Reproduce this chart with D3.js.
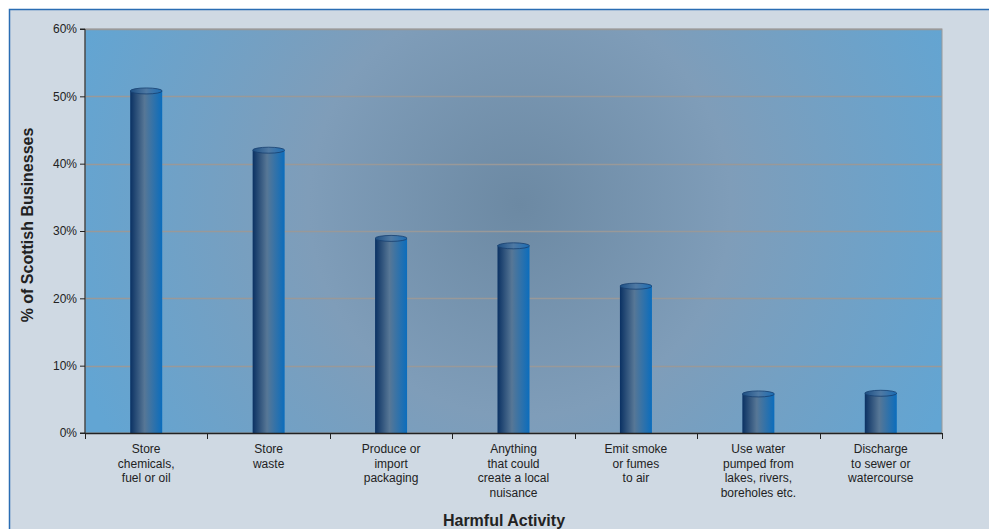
<!DOCTYPE html>
<html><head><meta charset="utf-8">
<script src="https://cdn.jsdelivr.net/npm/d3@7"></script>
<style>body{margin:0;background:#fff}svg{display:block;font-family:"Liberation Sans",Arial,sans-serif}</style>
</head><body><svg id="c" width="989" height="529"></svg>
<script>
const categories = [
  ["Store","chemicals,","fuel or oil"],
  ["Store","waste"],
  ["Produce or","import","packaging"],
  ["Anything","that could","create a local","nuisance"],
  ["Emit smoke","or fumes","to air"],
  ["Use water","pumped from","lakes, rivers,","boreholes etc."],
  ["Discharge","to sewer or","watercourse"]
];
const values = [50.8, 42.0, 28.9, 27.8, 21.8, 5.8, 5.9];
const yTicks = [0, 10, 20, 30, 40, 50, 60];
const yTitle = "% of Scottish Businesses";
const xTitle = "Harmful Activity";

const svg = d3.select("#c");
const W = 989, H = 529;
const m = {l:85, r:47, t:29, b:96};
const x0 = m.l, x1 = W - m.r, y0 = m.t, y1 = H - m.b;

const defs = svg.append("defs");
const rg = defs.append("radialGradient").attr("id","bg").attr("gradientUnits","userSpaceOnUse")
  .attr("cx",520).attr("cy",205).attr("r",470).attr("fx",520).attr("fy",205);
rg.append("stop").attr("offset","0%").attr("stop-color","#6c89a3");
rg.append("stop").attr("offset","45%").attr("stop-color","#7f9db9");
rg.append("stop").attr("offset","100%").attr("stop-color","#62a5d3");
const cg = defs.append("linearGradient").attr("id","cyl").attr("x1","0").attr("x2","1").attr("y1","0").attr("y2","0");
cg.append("stop").attr("offset","0%").attr("stop-color","#0a3163");
cg.append("stop").attr("offset","45%").attr("stop-color","#577796");
cg.append("stop").attr("offset","100%").attr("stop-color","#0b6dbd");
const tg = defs.append("linearGradient").attr("id","top").attr("x1","0").attr("x2","1").attr("y1","0").attr("y2","0");
tg.append("stop").attr("offset","0%").attr("stop-color","#1d4f84");
tg.append("stop").attr("offset","50%").attr("stop-color","#4f79a3");
tg.append("stop").attr("offset","100%").attr("stop-color","#1a6db5");

// panel
svg.append("rect").attr("x",9.5).attr("y",9.5).attr("width",W).attr("height",H)
  .attr("fill","#cfd9e3").attr("stroke","#2a6db3").attr("stroke-width",1.5);

const x = d3.scaleBand().domain(d3.range(categories.length)).range([x0,x1]).padding(0);
const y = d3.scaleLinear().domain([0,60]).range([y1,y0]);

svg.append("rect").attr("x",x0).attr("y",y0).attr("width",x1-x0).attr("height",y1-y0)
  .attr("fill","url(#bg)").attr("stroke","#9a9a9a");

// gridlines
svg.append("g").selectAll("line").data(yTicks.filter(d=>d>0)).join("line")
  .attr("x1",x0).attr("x2",x1).attr("y1",d=>Math.round(y(d))+0.5).attr("y2",d=>Math.round(y(d))+0.5)
  .attr("stroke","#999").attr("stroke-width",1.3);

// bars
const bw = 32, ry = 3;
const bars = svg.append("g").selectAll("g").data(values).join("g");
bars.append("path").attr("d",(d,i)=>{
  const cx = x(i)+x.bandwidth()/2, l = cx-bw/2, r = cx+bw/2, t = y(d);
  return `M${l},${t}L${l},${y1}L${r},${y1}L${r},${t}Z`;
}).attr("fill","url(#cyl)");
bars.append("ellipse").attr("cx",(d,i)=>x(i)+x.bandwidth()/2).attr("cy",d=>y(d))
  .attr("rx",bw/2).attr("ry",ry).attr("fill","url(#top)").attr("stroke","#163f6e").attr("stroke-width",0.8);

// y axis
const ya = d3.axisLeft(y).tickValues(yTicks).tickFormat(d=>d+"%").tickSize(5).tickPadding(3);
const yg = svg.append("g").attr("transform",`translate(${x0},0)`).call(ya);
yg.select(".domain").attr("stroke","#222").attr("d",`M-5,${y0}H0V${y1}H-5`);
yg.selectAll(".tick line").attr("stroke","#222");
yg.selectAll("text").attr("font-size",12).attr("fill","#222").attr("font-family","Liberation Sans, Arial, sans-serif");

// x axis
const xl = svg.append("g");
xl.append("line").attr("x1",x0).attr("x2",x1).attr("y1",y1+0.5).attr("y2",y1+0.5).attr("stroke","#222").attr("stroke-width",1.3);
xl.selectAll(".tk").data(d3.range(categories.length+1)).join("line").attr("class","tk")
  .attr("x1",i=>Math.round(x0+i*x.bandwidth())+0.5).attr("x2",i=>Math.round(x0+i*x.bandwidth())+0.5)
  .attr("y1",y1).attr("y2",y1+6).attr("stroke","#222");
const lab = xl.selectAll(".lab").data(categories).join("text").attr("class","lab")
  .attr("text-anchor","middle").attr("font-size",12).attr("fill","#222")
  .attr("x",(d,i)=>x(i)+x.bandwidth()/2).attr("y",y1+20);
lab.selectAll("tspan").data(d=>d).join("tspan")
  .attr("x",function(){return this.parentNode.getAttribute("x");})
  .attr("dy",(d,j)=>j===0?0:14.5).text(d=>d);

// titles
svg.append("text").attr("transform",`translate(33,${(y0+y1)/2-6}) rotate(-90)`)
  .attr("text-anchor","middle").attr("font-size",16).attr("font-weight","bold").attr("fill","#222").text(yTitle);
svg.append("text").attr("x",504).attr("y",526).attr("text-anchor","middle")
  .attr("font-size",16).attr("font-weight","bold").attr("fill","#222").text(xTitle);
</script></body></html>
